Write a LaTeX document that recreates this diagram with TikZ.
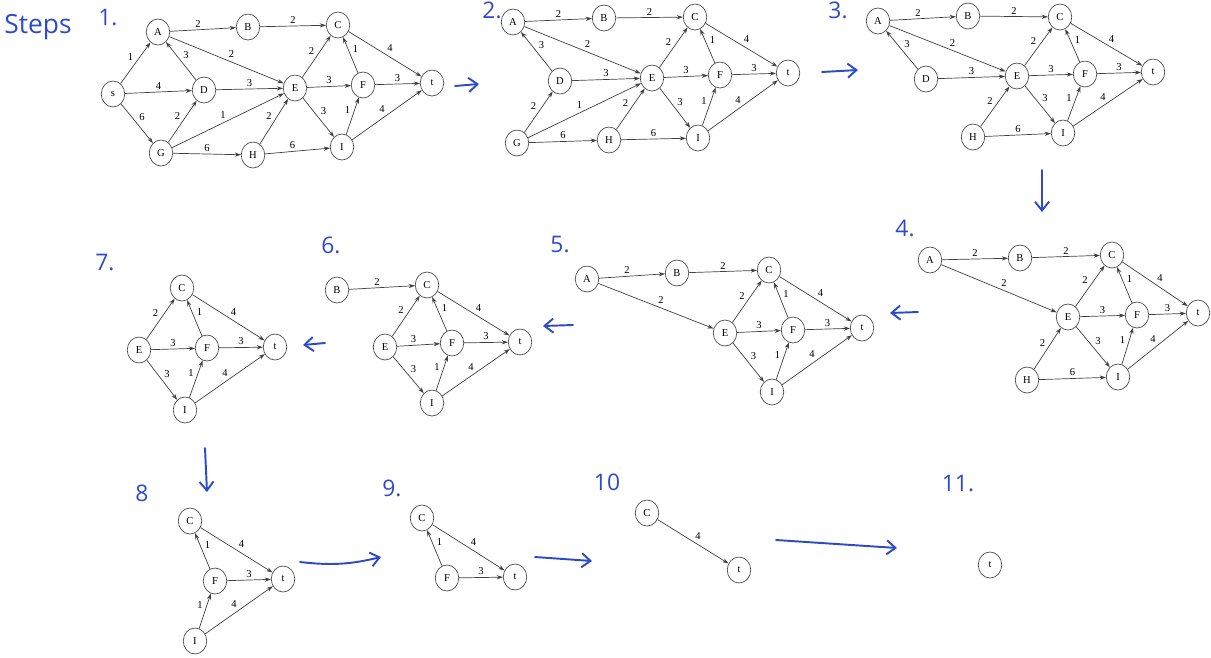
\documentclass[tikz,border=0pt]{standalone}
\usepackage{fontspec}
\setmainfont{Liberation Serif}
\newfontfamily\handfont{Open Sans}
\usetikzlibrary{arrows.meta,shapes.geometric}
\definecolor{handblue}{RGB}{45,75,200}

\begin{document}
\begin{tikzpicture}[
  x=0.02cm, y=-0.02cm,
  vtx/.style  ={draw=black!70, ellipse, minimum width=0.47cm,
                minimum height=0.52cm, inner sep=0pt, line width=0.4pt,
                font=\fontsize{6}{7}\selectfont},
  arr/.style  ={-{Stealth[length=3.5pt,width=2.4pt]}, draw=black!75, line width=0.4pt},
  lbl/.style  ={auto, inner sep=1.2pt, font=\fontsize{6}{7}\selectfont},
  hand/.style ={-{Straight Barb[length=5pt,width=8pt]}, draw=handblue,
                line width=1.1pt, line cap=round},
  note/.style ={text=handblue, font=\handfont\fontsize{13}{13}\selectfont}]

\useasboundingbox (0,0) rectangle (1211,657);
\clip (0,0) rectangle (1211,657);

% step labels
\node[note, font=\handfont\fontsize{15}{15}\selectfont] (steps) at (38,27) {Steps};
\node[note] (n1)  at (108,18)  {1.};
\node[note] (n2)  at (492,10)  {2.};
\node[note] (n3)  at (838,10)  {3.};
\node[note] (n4)  at (905,228) {4.};
\node[note] (n5)  at (560,245) {5.};
\node[note] (n6)  at (331,245) {6.};
\node[note] (n7)  at (105,262) {7.};
\node[note] (n8)  at (142,493) {8};
\node[note] (n9)  at (392,488) {9.};
\node[note] (n10) at (607,482) {10};
\node[note] (n11) at (958,483) {11.};

% step 1
\node[vtx] (s1) at (113,94)  {s};
\node[vtx] (A1) at (158,32)  {A};
\node[vtx] (B1) at (248,27)  {B};
\node[vtx] (C1) at (338,25)  {C};
\node[vtx] (D1) at (204,90)  {D};
\node[vtx] (E1) at (295,88)  {E};
\node[vtx] (F1) at (363,85)  {F};
\node[vtx] (t1) at (432,83)  {t};
\node[vtx] (G1) at (161,153) {G};
\node[vtx] (H1) at (253,155) {H};
\node[vtx] (I1) at (342,147) {I};

\draw[arr] (s1) -- node[lbl] {1} (A1);
\draw[arr] (s1) -- node[lbl] {4} (D1);
\draw[arr] (s1) -- node[lbl] {6} (G1);
\draw[arr] (A1) -- node[lbl] {2} (B1);
\draw[arr] (B1) -- node[lbl] {2} (C1);
\draw[arr] (A1) -- node[lbl] {2} (E1);
\draw[arr] (D1) -- node[lbl,swap] {3} (A1);
\draw[arr] (D1) -- node[lbl] {3} (E1);
\draw[arr] (G1) -- node[lbl] {2} (D1);
\draw[arr] (G1) -- node[lbl] {1} (E1);
\draw[arr] (G1) -- node[lbl] {6} (H1);
\draw[arr] (H1) -- node[lbl] {2} (E1);
\draw[arr] (H1) -- node[lbl] {6} (I1);
\draw[arr] (E1) -- node[lbl] {2} (C1);
\draw[arr] (E1) -- node[lbl] {3} (F1);
\draw[arr] (E1) -- node[lbl] {3} (I1);
\draw[arr] (F1) -- node[lbl,swap] {1} (C1);
\draw[arr] (I1) -- node[lbl] {1} (F1);
\draw[arr] (C1) -- node[lbl] {4} (t1);
\draw[arr] (F1) -- node[lbl] {3} (t1);
\draw[arr] (I1) -- node[lbl] {4} (t1);

% step 2
\node[vtx] (A2) at (513,22)  {A};
\node[vtx] (B2) at (604,18)  {B};
\node[vtx] (C2) at (695,17)  {C};
\node[vtx] (D2) at (560,81)  {D};
\node[vtx] (E2) at (652,78)  {E};
\node[vtx] (F2) at (720,75)  {F};
\node[vtx] (t2) at (788,73)  {t};
\node[vtx] (G2) at (517,143) {G};
\node[vtx] (H2) at (609,140) {H};
\node[vtx] (I2) at (698,138) {I};

\draw[arr] (A2) -- node[lbl] {2} (B2);
\draw[arr] (B2) -- node[lbl] {2} (C2);
\draw[arr] (A2) -- node[lbl] {2} (E2);
\draw[arr] (D2) -- node[lbl,swap] {3} (A2);
\draw[arr] (D2) -- node[lbl] {3} (E2);
\draw[arr] (G2) -- node[lbl] {2} (D2);
\draw[arr] (G2) -- node[lbl] {1} (E2);
\draw[arr] (G2) -- node[lbl] {6} (H2);
\draw[arr] (H2) -- node[lbl] {2} (E2);
\draw[arr] (H2) -- node[lbl] {6} (I2);
\draw[arr] (E2) -- node[lbl] {2} (C2);
\draw[arr] (E2) -- node[lbl] {3} (F2);
\draw[arr] (E2) -- node[lbl] {3} (I2);
\draw[arr] (F2) -- node[lbl,swap] {1} (C2);
\draw[arr] (I2) -- node[lbl] {1} (F2);
\draw[arr] (C2) -- node[lbl] {4} (t2);
\draw[arr] (F2) -- node[lbl] {3} (t2);
\draw[arr] (I2) -- node[lbl] {4} (t2);

% step 3
\node[vtx] (A3) at (878,21)   {A};
\node[vtx] (B3) at (968,16)   {B};
\node[vtx] (C3) at (1060,17)  {C};
\node[vtx] (D3) at (926,79)   {D};
\node[vtx] (E3) at (1017,76)  {E};
\node[vtx] (F3) at (1085,74)  {F};
\node[vtx] (t3) at (1153,72)  {t};
\node[vtx] (H3) at (973,137)  {H};
\node[vtx] (I3) at (1063,133) {I};

\draw[arr] (A3) -- node[lbl] {2} (B3);
\draw[arr] (B3) -- node[lbl] {2} (C3);
\draw[arr] (A3) -- node[lbl] {2} (E3);
\draw[arr] (D3) -- node[lbl,swap] {3} (A3);
\draw[arr] (D3) -- node[lbl] {3} (E3);
\draw[arr] (H3) -- node[lbl] {2} (E3);
\draw[arr] (H3) -- node[lbl] {6} (I3);
\draw[arr] (E3) -- node[lbl] {2} (C3);
\draw[arr] (E3) -- node[lbl] {3} (F3);
\draw[arr] (E3) -- node[lbl] {3} (I3);
\draw[arr] (F3) -- node[lbl,swap] {1} (C3);
\draw[arr] (I3) -- node[lbl] {1} (F3);
\draw[arr] (C3) -- node[lbl] {4} (t3);
\draw[arr] (F3) -- node[lbl] {3} (t3);
\draw[arr] (I3) -- node[lbl] {4} (t3);

% step 4
\node[vtx] (A4) at (930,260)  {A};
\node[vtx] (B4) at (1020,258) {B};
\node[vtx] (C4) at (1112,255) {C};
\node[vtx] (E4) at (1068,317) {E};
\node[vtx] (F4) at (1137,315) {F};
\node[vtx] (t4) at (1198,313) {t};
\node[vtx] (H4) at (1027,380) {H};
\node[vtx] (I4) at (1118,377) {I};

\draw[arr] (A4) -- node[lbl] {2} (B4);
\draw[arr] (B4) -- node[lbl] {2} (C4);
\draw[arr] (A4) -- node[lbl] {2} (E4);
\draw[arr] (H4) -- node[lbl] {2} (E4);
\draw[arr] (H4) -- node[lbl] {6} (I4);
\draw[arr] (E4) -- node[lbl] {2} (C4);
\draw[arr] (E4) -- node[lbl] {3} (F4);
\draw[arr] (E4) -- node[lbl] {3} (I4);
\draw[arr] (F4) -- node[lbl,swap] {1} (C4);
\draw[arr] (I4) -- node[lbl] {1} (F4);
\draw[arr] (C4) -- node[lbl] {4} (t4);
\draw[arr] (F4) -- node[lbl] {3} (t4);
\draw[arr] (I4) -- node[lbl] {4} (t4);

% step 5
\node[vtx] (A5) at (587,279) {A};
\node[vtx] (B5) at (677,273) {B};
\node[vtx] (C5) at (769,270) {C};
\node[vtx] (E5) at (725,333) {E};
\node[vtx] (F5) at (793,330) {F};
\node[vtx] (t5) at (862,328) {t};
\node[vtx] (I5) at (772,392) {I};

\draw[arr] (A5) -- node[lbl] {2} (B5);
\draw[arr] (B5) -- node[lbl] {2} (C5);
\draw[arr] (A5) -- node[lbl] {2} (E5);
\draw[arr] (E5) -- node[lbl] {2} (C5);
\draw[arr] (E5) -- node[lbl] {3} (F5);
\draw[arr] (E5) -- node[lbl] {3} (I5);
\draw[arr] (F5) -- node[lbl,swap] {1} (C5);
\draw[arr] (I5) -- node[lbl] {1} (F5);
\draw[arr] (C5) -- node[lbl] {4} (t5);
\draw[arr] (F5) -- node[lbl] {3} (t5);
\draw[arr] (I5) -- node[lbl] {4} (t5);

% step 6
\node[vtx] (B6) at (337,290) {B};
\node[vtx] (C6) at (427,285) {C};
\node[vtx] (E6) at (385,347) {E};
\node[vtx] (F6) at (452,343) {F};
\node[vtx] (t6) at (520,342) {t};
\node[vtx] (I6) at (432,403) {I};

\draw[arr] (B6) -- node[lbl] {2} (C6);
\draw[arr] (E6) -- node[lbl] {2} (C6);
\draw[arr] (E6) -- node[lbl] {3} (F6);
\draw[arr] (E6) -- node[lbl] {3} (I6);
\draw[arr] (F6) -- node[lbl,swap] {1} (C6);
\draw[arr] (I6) -- node[lbl] {1} (F6);
\draw[arr] (C6) -- node[lbl] {4} (t6);
\draw[arr] (F6) -- node[lbl] {3} (t6);
\draw[arr] (I6) -- node[lbl] {4} (t6);

% step 7
\node[vtx] (C7) at (182,288) {C};
\node[vtx] (E7) at (139,350) {E};
\node[vtx] (F7) at (207,348) {F};
\node[vtx] (t7) at (275,347) {t};
\node[vtx] (I7) at (185,410) {I};

\draw[arr] (E7) -- node[lbl] {2} (C7);
\draw[arr] (E7) -- node[lbl] {3} (F7);
\draw[arr] (E7) -- node[lbl] {3} (I7);
\draw[arr] (F7) -- node[lbl,swap] {1} (C7);
\draw[arr] (I7) -- node[lbl] {1} (F7);
\draw[arr] (C7) -- node[lbl] {4} (t7);
\draw[arr] (F7) -- node[lbl] {3} (t7);
\draw[arr] (I7) -- node[lbl] {4} (t7);

% step 8
\node[vtx] (C8) at (190,521) {C};
\node[vtx] (F8) at (215,581) {F};
\node[vtx] (t8) at (283,579) {t};
\node[vtx] (I8) at (195,641) {I};

\draw[arr] (F8) -- node[lbl,swap] {1} (C8);
\draw[arr] (I8) -- node[lbl] {1} (F8);
\draw[arr] (C8) -- node[lbl] {4} (t8);
\draw[arr] (F8) -- node[lbl] {3} (t8);
\draw[arr] (I8) -- node[lbl] {4} (t8);

% step 9
\node[vtx] (C9) at (422,518) {C};
\node[vtx] (F9) at (447,578) {F};
\node[vtx] (t9) at (515,577) {t};

\draw[arr] (F9) -- node[lbl,swap] {1} (C9);
\draw[arr] (C9) -- node[lbl] {4} (t9);
\draw[arr] (F9) -- node[lbl] {3} (t9);

% step 10
\node[vtx] (C10) at (647,513) {C};
\node[vtx] (t10) at (739,570) {t};

\draw[arr] (C10) -- node[lbl] {4} (t10);

% step 11
\node[vtx] (t11) at (990,565) {t};

% hand-drawn arrows between steps
\coordinate (h12a) at (455,86);   \coordinate (h12b) at (479,84);
\coordinate (h23a) at (822,72);   \coordinate (h23b) at (858,70);
\coordinate (h34a) at (1042,170); \coordinate (h34b) at (1042,212);
\coordinate (h45a) at (918,312);  \coordinate (h45b) at (890,313);
\coordinate (h56a) at (573,325);  \coordinate (h56b) at (543,326);
\coordinate (h67a) at (325,343);  \coordinate (h67b) at (303,345);
\coordinate (h78a) at (205,448);  \coordinate (h78b) at (207,492);
\coordinate (h89a) at (300,562);  \coordinate (h89b) at (381,557);
\coordinate (h910a) at (535,557); \coordinate (h910b) at (592,561);
\coordinate (h1011a) at (776,540); \coordinate (h1011b) at (897,548);

\draw[hand] (h12a) -- (h12b);
\draw[hand] (h23a) -- (h23b);
\draw[hand] (h34a) -- (h34b);
\draw[hand] (h45a) -- (h45b);
\draw[hand] (h56a) -- (h56b);
\draw[hand] (h67a) -- (h67b);
\draw[hand] (h78a) -- (h78b);
\draw[hand] (h89a) to[bend right=10] (h89b);
\draw[hand] (h910a) -- (h910b);
\draw[hand] (h1011a) -- (h1011b);
\end{tikzpicture}
\end{document}
